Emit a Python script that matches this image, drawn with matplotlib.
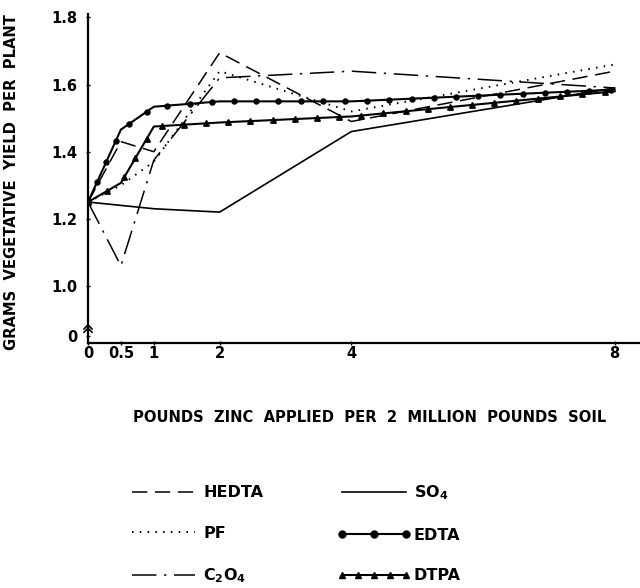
import matplotlib
matplotlib.use("Agg")
import numpy as np
import matplotlib.pyplot as plt
from matplotlib.legend_handler import HandlerLine2D
from matplotlib.lines import Line2D
from matplotlib.markers import MarkerStyle
from matplotlib.path import Path
from matplotlib.patheffects import AbstractPathEffect
from matplotlib.transforms import Affine2D, IdentityTransform

plt.rcParams["font.family"] = "DejaVu Sans"
plt.rcParams["font.weight"] = "bold"
plt.rcParams["mathtext.default"] = "bf"

# zinc applied (lb per 2 million lb soil)
zinc = [0, 0.5, 1, 2, 4, 8]

# grams vegetative yield per plant for each zinc carrier
hedta = [1.25, 1.43, 1.40, 1.695, 1.49, 1.64]
pf = [1.25, 1.30, 1.37, 1.64, 1.52, 1.66]
c2o4 = [1.25, 1.06, 1.375, 1.62, 1.64, 1.59]
so4 = [1.25, 1.24, 1.23, 1.22, 1.46, 1.59]
edta = [1.25, 1.466, 1.534, 1.55, 1.55, 1.585]
dtpa = [1.25, 1.307, 1.475, 1.487, 1.505, 1.58]

x_ticks = [0, 0.5, 1, 2, 4, 8]
x_labels = ["0", "0.5", "1", "2", "4", "8"]
y_ticks = [0.85, 1.0, 1.2, 1.4, 1.6, 1.8]
y_labels = ["0", "1.0", "1.2", "1.4", "1.6", "1.8"]


class MarkersAlong(AbstractPathEffect):
    """Draw the line, then stamp a marker every `spacing` points along it."""

    def __init__(self, marker, size, spacing):
        super().__init__()
        self.marker = MarkerStyle(marker)
        self.size = size
        self.spacing = spacing

    def draw_path(self, renderer, gc, tpath, affine, rgbFace=None):
        renderer.draw_path(gc, tpath, affine, rgbFace)
        pts = affine.transform(tpath.vertices)
        seg = np.hypot(*np.diff(pts, axis=0).T)
        cum = np.concatenate([[0], np.cumsum(seg)])
        step = renderer.points_to_pixels(self.spacing)
        s = np.arange(0, cum[-1] + 1e-6, step)
        spots = np.column_stack([np.interp(s, cum, pts[:, 0]),
                                 np.interp(s, cum, pts[:, 1])])
        mtrans = self.marker.get_transform() + Affine2D().scale(
            renderer.points_to_pixels(self.size))
        renderer.draw_markers(gc, self.marker.get_path(), mtrans,
                              Path(spots), IdentityTransform(), (0, 0, 0, 1))


fig = plt.figure(figsize=(6.4, 5.88), dpi=100)
ax = fig.add_axes([0.1375, 0.4167, 0.862, 0.5593])

l_hedta, = ax.plot(zinc, hedta, color="black", lw=1.1, dashes=(10, 5))
l_so4, = ax.plot(zinc, so4, color="black", lw=1.2)
l_pf, = ax.plot(zinc, pf, color="black", lw=1.4, dashes=(0.8, 3.2))
ax.plot(zinc, edta, color="black", lw=1.5,
        path_effects=[MarkersAlong("o", 3.1, 16)])
l_c2o4, = ax.plot(zinc, c2o4, color="black", lw=1.1,
                  dashes=(16, 5, 1.5, 5))
ax.plot(zinc, dtpa, color="black", lw=1.5,
        path_effects=[MarkersAlong("^", 3.4, 16)])

ax.set_xlim(0, 8.38)
ax.set_ylim(0.83, 1.81)
ax.set_xticks(x_ticks)
ax.set_xticklabels(x_labels)
ax.set_yticks(y_ticks)
ax.set_yticklabels(y_labels)
ax.tick_params(direction="inout", length=3, width=1, labelsize=10.5)
ax.tick_params(axis="x", pad=1)
ax.tick_params(axis="y", pad=6)
ax.spines["top"].set_visible(False)
ax.spines["right"].set_visible(False)
ax.spines["left"].set_linewidth(1.6)
ax.spines["bottom"].set_linewidth(1.6)

# axis break marks near the origin
for base in (0.862, 0.872):
    ax.plot([-0.06, 0, 0.06], [base, base + 0.012, base], color="black",
            lw=1.2, clip_on=False)

ax.set_ylabel("GRAMS  VEGETATIVE  YIELD  PER  PLANT", fontsize=10.6,
              fontweight="bold")
ax.yaxis.set_label_coords(-0.125, 0.49)
ax.set_xlabel("POUNDS  ZINC  APPLIED  PER  2  MILLION  POUNDS  SOIL",
              fontsize=10.6, fontweight="bold")
ax.xaxis.set_label_coords(0.511, -0.205)

# legend keys for the marked lines
k_edta = Line2D([], [], color="black", lw=1.5, marker="o", ms=5)
k_dtpa = Line2D([], [], color="black", lw=1.5, marker="^", ms=5)

handles = [l_hedta, l_pf, l_c2o4, l_so4, k_edta, k_dtpa]
labels = ["HEDTA", "PF", "C$_2$O$_4$", "SO$_4$", "EDTA", "DTPA"]
fig.legend(handles, labels, loc="upper left", bbox_to_anchor=(0.198, 0.178),
           ncol=2, frameon=False, borderpad=0, borderaxespad=0,
           handlelength=4.6, handletextpad=0.2, columnspacing=4.6,
           labelspacing=1.6, numpoints=3, fontsize=11.5,
           handler_map={k_dtpa: HandlerLine2D(numpoints=5)})

fig.savefig("out.png", dpi=100)
